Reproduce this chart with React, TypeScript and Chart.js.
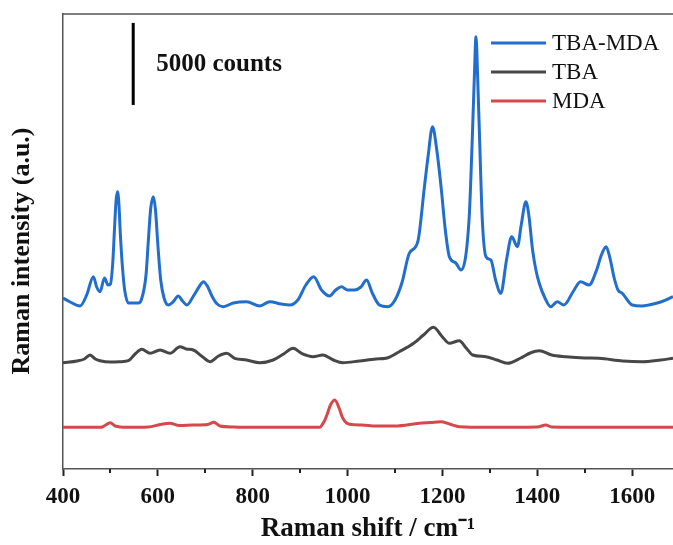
import React, { useEffect, useRef } from 'react';
import { Chart, registerables } from 'chart.js';

Chart.register(...registerables);

const FONT = '"Liberation Serif", "Times New Roman", serif';
const AXIS_COLOR = '#555555';

const SERIES_NAMES = ['TBA-MDA', 'TBA', 'MDA'];
const SERIES_COLORS = ['#226ecd', '#474747', '#d6484c'];

const X_MIN = 400;
const X_MAX = 1686;
const Y_MIN = 0;
const Y_MAX = 27745;
const MAJOR_STEP = 200;
const MINOR_TICKS = [500, 700, 900, 1100, 1300, 1500];

const X_TITLE = 'Raman shift / cm\u207B\u00B9';
const Y_TITLE = 'Raman intensity (a.u.)';

const SCALE_BAR_X = 548;
const SCALE_BAR_TOP = 27200;
const SCALE_BAR_COUNTS = 5000;
const SCALE_BAR_LABEL = '5000 counts';

// [Raman shift (cm-1), intensity (counts, offset)]
const TBA_MDA: [number, number][] = [
  [400, 10428], [415, 10184], [436, 9940], [450, 10611], [464, 11727], [471, 11098],
  [478, 10812], [487.5, 11647], [495, 11220], [500, 11281], [505, 12623], [509, 14879],
  [512, 16403], [515, 16910], [518, 16099], [521, 14269], [525, 12440], [530, 10915],
  [538, 10123], [559, 10123], [565, 10306], [575, 11830], [580, 13964], [585, 15916],
  [590.5, 16605], [595, 15794], [600, 13660], [606, 11525], [613, 10428], [622, 10001],
  [632, 10184], [643, 10550], [652, 10245], [661, 10001], [675, 10550], [688, 11159],
  [696, 11422], [705, 11117], [715, 10489], [725, 10062], [738, 9897], [759, 10123],
  [787, 10202], [815, 9940], [836, 10202], [860, 10062], [878, 10001], [895, 10306],
  [912, 11220], [928.5, 11727], [945, 10915], [962, 10550], [975, 10915], [987, 11117],
  [1000, 10915], [1015, 10915], [1028, 11098], [1040, 11525], [1052, 10732], [1067, 10001],
  [1085, 9897], [1100, 10306], [1115, 11403], [1130, 13153], [1148, 13861], [1162, 17215],
  [1170, 19148], [1179, 20874], [1188, 19453], [1197, 17215], [1206, 14574], [1214.5, 12946],
  [1228, 12562], [1239, 12135], [1256, 15184], [1262, 19453], [1267, 23721], [1270.7, 26362],
  [1274, 24026], [1279, 19453], [1284, 15184], [1291.7, 12946], [1302, 12745], [1312, 11525],
  [1323, 10714], [1335, 12745], [1346, 14166], [1358, 13556], [1366, 14879], [1375.8, 16300],
  [1382, 15489], [1390, 13355], [1397, 12135], [1404, 11324], [1416, 10428], [1428, 9897],
  [1442, 10202], [1456, 10001], [1475, 10793], [1491, 11422], [1509, 11220], [1525, 12135],
  [1535, 13050], [1545, 13556], [1553, 12867], [1562, 11647], [1570, 10915], [1579, 10714],
  [1600, 10001], [1620, 9940], [1635, 10001], [1660, 10184], [1686, 10507],
];

const TBA: [number, number][] = [
  [400, 6482], [430, 6586], [445, 6708], [457, 6952], [468, 6708], [478, 6604],
  [500, 6525], [520, 6543], [538, 6604], [552, 7013], [566, 7299], [583.6, 7055],
  [604.6, 7257], [625.7, 7055], [646.7, 7458], [660, 7318], [674.7, 7257], [692, 6891],
  [710, 6543], [728, 6891], [745, 7055], [762, 6751], [787, 6647], [815, 6482],
  [843, 6647], [865, 7013], [885, 7360], [905, 7013], [927, 6848], [948, 6952],
  [970, 6647], [990, 6482], [1025, 6586], [1060, 6708], [1081, 6751], [1109, 7153],
  [1140, 7683], [1160, 8171], [1181, 8641], [1200, 8049], [1214.5, 7665], [1235.5, 7824],
  [1250, 7379], [1263.5, 6952], [1291.7, 6848], [1315, 6647], [1337, 6446], [1365, 6769],
  [1385, 7074], [1404, 7214], [1430, 6952], [1460, 6848], [1500, 6769], [1530, 6751],
  [1580, 6586], [1621, 6543], [1660, 6647], [1686, 6751],
];

const MDA: [number, number][] = [
  [400, 2543], [480, 2543], [490, 2683], [499.5, 2823], [510, 2622], [534.6, 2543],
  [580, 2561], [605, 2714], [625.7, 2787], [645, 2653], [674.7, 2683], [705, 2714],
  [718, 2848], [731, 2622], [760, 2561], [815, 2543], [900, 2543], [941, 2543],
  [950, 2866], [955, 3189], [964, 3903], [973, 4208], [982, 3720], [990, 3092],
  [1004, 2726], [1030, 2683], [1060, 2622], [1100, 2622], [1151, 2787], [1175, 2836],
  [1197, 2884], [1215, 2744], [1236, 2579], [1292, 2543], [1400, 2561], [1418, 2683],
  [1430, 2561], [1550, 2543], [1686, 2543],
];

const SERIES_DATA = [TBA_MDA, TBA, MDA];

const decorPlugin = {
  id: 'decor',
  afterDraw(chart: any) {
    const { ctx, chartArea, scales } = chart;
    const xs = scales.x;
    const ys = scales.y;
    ctx.save();
    // top frame line
    ctx.strokeStyle = AXIS_COLOR;
    ctx.lineWidth = 1.5;
    ctx.beginPath();
    ctx.moveTo(chartArea.left, chartArea.top);
    ctx.lineTo(chartArea.right, chartArea.top);
    ctx.stroke();
    // minor ticks
    ctx.strokeStyle = '#222';
    ctx.lineWidth = 2;
    ctx.beginPath();
    for (const v of MINOR_TICKS) {
      const px = Math.round(xs.getPixelForValue(v));
      ctx.moveTo(px, chartArea.bottom);
      ctx.lineTo(px, chartArea.bottom + 4);
    }
    ctx.stroke();
    // y-axis title
    ctx.save();
    ctx.translate(22, 251);
    ctx.rotate(-Math.PI / 2);
    ctx.fillStyle = '#111';
    ctx.font = `bold 26px ${FONT}`;
    ctx.textAlign = 'center';
    ctx.textBaseline = 'middle';
    ctx.fillText(Y_TITLE, 0, 0);
    ctx.restore();
    // scale bar
    const bx = xs.getPixelForValue(SCALE_BAR_X);
    const bt = ys.getPixelForValue(SCALE_BAR_TOP);
    const bb = ys.getPixelForValue(SCALE_BAR_TOP - SCALE_BAR_COUNTS);
    ctx.strokeStyle = '#000';
    ctx.lineWidth = 3;
    ctx.beginPath();
    ctx.moveTo(bx, bt);
    ctx.lineTo(bx, bb);
    ctx.stroke();
    ctx.fillStyle = '#111';
    ctx.font = `bold 25px ${FONT}`;
    ctx.textBaseline = 'middle';
    ctx.textAlign = 'left';
    ctx.fillText(SCALE_BAR_LABEL, bx + 23, (bt + bb) / 2 + 1);
    // legend
    const lx0 = chartArea.left + 428;
    const lx1 = lx0 + 55;
    const ly = [chartArea.top + 29, chartArea.top + 58, chartArea.top + 87];
    ctx.font = `23px ${FONT}`;
    SERIES_NAMES.forEach((name, i) => {
      ctx.strokeStyle = SERIES_COLORS[i];
      ctx.lineWidth = 3;
      ctx.beginPath();
      ctx.moveTo(lx0, ly[i]);
      ctx.lineTo(lx1, ly[i]);
      ctx.stroke();
      ctx.fillStyle = '#111';
      ctx.fillText(name, lx1 + 6, ly[i] + 1);
    });
    ctx.restore();
  },
};

export default function App() {
  const ref = useRef<HTMLCanvasElement | null>(null);
  useEffect(() => {
    document.body.style.margin = '0';
    const canvas = ref.current;
    if (!canvas) return;
    const chart = new Chart(canvas, {
      type: 'line',
      data: {
        datasets: SERIES_DATA.map((d, i) => ({
          label: SERIES_NAMES[i],
          data: d.map(([x, y]) => ({ x, y })),
          borderColor: SERIES_COLORS[i],
          backgroundColor: SERIES_COLORS[i],
          borderWidth: 3,
          pointRadius: 0,
          cubicInterpolationMode: 'monotone' as const,
          tension: 0.4,
          fill: false,
        })),
      },
      options: {
        animation: false,
        responsive: false,
        devicePixelRatio: 1,
        layout: { padding: { top: 14, right: 0, left: 0, bottom: 0 } },
        plugins: {
          legend: { display: false },
          tooltip: { enabled: false },
        },
        scales: {
          x: {
            type: 'linear',
            min: X_MIN,
            max: X_MAX,
            afterFit: (s: any) => { s.height = 76; },
            ticks: {
              stepSize: MAJOR_STEP,
              includeBounds: false,
              autoSkip: false,
              maxRotation: 0,
              padding: 7,
              color: '#111',
              font: { family: FONT, size: 23, weight: 'bold' },
              callback: (v: any) => String(v),
            },
            grid: {
              display: true,
              drawOnChartArea: false,
              drawTicks: true,
              tickLength: 7,
              tickWidth: 2,
              tickColor: '#222',
            },
            border: { display: true, color: AXIS_COLOR, width: 1.5 },
            title: {
              display: true,
              text: X_TITLE,
              color: '#111',
              font: { family: FONT, size: 27, weight: 'bold' },
              padding: { top: 0, bottom: 0 },
            },
          },
          y: {
            type: 'linear',
            min: Y_MIN,
            max: Y_MAX,
            afterFit: (s: any) => { s.width = 63; },
            ticks: { display: false },
            grid: { display: false },
            border: { display: true, color: AXIS_COLOR, width: 1.5 },
            title: { display: false, text: Y_TITLE },
          },
        },
      },
      plugins: [decorPlugin],
    });
    return () => chart.destroy();
  }, []);
  return (
    <div style={{ position: 'absolute', left: 0, top: 0, width: 673, height: 545 }}>
      <canvas ref={ref} width={673} height={545} style={{ width: 673, height: 545 }} />
    </div>
  );
}
